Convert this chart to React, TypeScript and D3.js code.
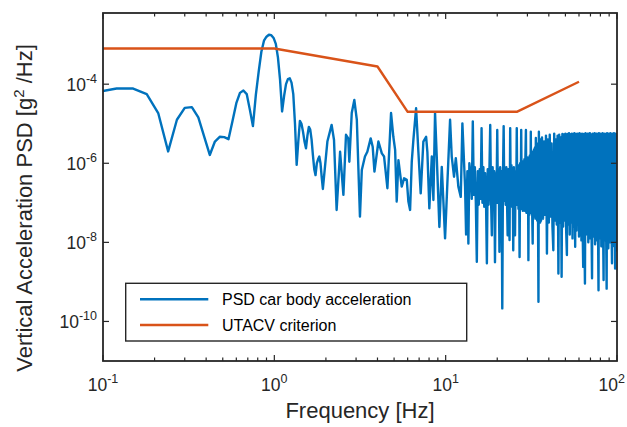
import React from 'react';
import * as d3 from 'd3';

const W = 627;
const H = 427;
const PL = 103, PR = 617, PT = 13, PB = 361;

const xDomain = [0.1, 100];
const yDomain = [1e-11, Math.pow(10, -2.2)];

const xTickExps = [-1, 0, 1, 2];
const yTickExps = [-10, -8, -6, -4];
const minorMults = [2, 3, 4, 5, 6, 7, 8, 9];

const legendLabels = ['PSD car body acceleration', 'UTACV criterion'];
const seriesColors = ['#0072BD', '#D95319'];

// UTACV criterion (Hz, g^2/Hz)
const critFreq = [0.1, 1, 4, 6, 26, 60];
const critPSD = [8e-4, 8e-4, 2.8e-4, 2e-5, 2e-5, 1.15e-4];

// PSD car body acceleration, log10(g^2/Hz)
// low band: uniform bins from 0.09 Hz, step 0.03 Hz
const psdLowStart = 0.09;
const psdLowStep = 0.03;
const psdLowLog10 = [
  -4.21, -4.11, -4.11, -4.25, -4.73, -5.70, -4.90, -4.60, -4.58, -4.84,
  -5.33, -5.79, -5.45, -5.33, -5.34, -5.39, -4.93, -4.48, -4.22, -4.16,
  -4.25, -4.65, -5.06, -4.27, -3.69, -3.18, -2.90, -2.80, -2.75, -2.76,
  -2.83, -2.98, -3.33, -3.89, -4.69, -4.30, -4.00, -3.87, -3.85, -3.96,
  -4.25, -5.00, -6.04, -5.45, -4.93, -5.00, -5.20, -5.45, -5.62, -5.30,
  -5.08, -5.15, -5.40, -5.80, -6.15, -6.30, -6.00, -5.90, -5.83, -6.00,
  -6.35, -6.65,
];

// mid band: [Hz, log10 PSD]
const psdMid: [number, number][] = [
  [2.04, -5.45], [2.16, -5.03], [2.23, -5.41], [2.31, -7.18], [2.42, -5.71],
  [2.53, -6.80], [2.62, -5.28], [2.70, -5.37], [2.74, -5.96], [2.83, -4.73],
  [2.93, -4.40], [3.03, -4.90], [3.16, -7.35], [3.24, -6.17], [3.38, -5.83],
  [3.49, -5.71], [3.65, -5.37], [3.75, -5.58], [3.84, -6.21], [4.05, -5.45],
  [4.24, -5.75], [4.37, -5.83], [4.57, -6.63], [4.80, -4.73], [4.95, -5.33],
  [5.07, -5.66], [5.18, -6.97], [5.30, -5.92], [5.54, -6.59], [5.72, -6.38],
  [5.93, -6.42], [6.06, -6.97], [6.20, -7.18], [6.34, -5.96], [6.48, -5.41],
  [6.72, -4.61], [6.93, -5.71], [7.15, -6.76], [7.41, -5.45], [7.69, -5.33],
  [7.82, -5.71], [8.03, -7.14], [8.30, -5.83], [8.48, -6.93], [8.67, -4.73],
  [8.87, -5.83], [9.19, -7.61], [9.49, -6.09], [9.69, -6.93], [9.92, -7.90],
  [10.23, -6.51], [10.61, -4.90], [10.85, -5.83], [11.19, -6.34], [11.46, -5.87],
  [11.86, -6.59], [12.25, -6.85], [12.52, -4.99], [12.98, -6.59], [13.16, -7.80],
  [13.39, -6.20], [13.57, -8.03], [13.75, -6.00],
];

// band 1: uniform bins from 14 Hz, step 0.2 Hz
const psdBand1Start = 14;
const psdBand1Step = 0.2;
const psdBand1Log10 = [
  -6.30, -6.90, -4.94, -6.80, -6.10, -7.00, -8.49, -6.20, -7.05, -6.15,
  -6.90, -5.11, -7.00, -6.10, -7.10, -6.25, -6.95, -8.53, -6.15, -7.05,
  -6.20, -5.03, -6.90, -7.82, -6.10, -6.95, -6.20, -8.50, -6.25, -7.00,
  -5.16, -7.00, -6.15, -8.24, -6.10, -7.10, -6.20, -9.67, -6.30, -5.06,
  -6.95, -6.20, -7.05, -6.10, -6.90, -7.82, -6.15, -7.00, -7.94, -5.11,
  -7.00, -6.05, -7.10, -6.15, -8.20, -6.10, -7.05, -7.82, -6.20, -7.00,
  -5.11, -7.05, -6.05, -7.15, -6.10, -8.37, -6.00, -7.10, -5.16, -7.15,
  -5.95, -7.20, -6.00, -7.05, -5.90, -7.20, -5.85, -5.16, -7.25, -5.95,
  -7.10, -5.85, -8.45, -5.90, -7.30, -5.80, -7.20, -5.20, -7.25, -5.75,
  -7.30, -8.03, -5.70, -7.35, -5.65, -7.25, -5.60, -7.40, -5.36, -7.30,
  -5.50, -7.45, -5.55, -7.35, -9.50, -5.20, -7.40, -5.45, -7.50, -5.40,
  -7.45,
];

// band 2: uniform bins from 36.5 Hz, step 0.5 Hz
const psdBand2Start = 36.5;
const psdBand2Step = 0.5;
const psdBand2Log10 = [
  -5.35, -7.40, -5.45, -7.30, -5.30, -8.28, -5.40, -7.50, -5.28, -7.35,
  -5.50, -7.60, -8.20, -5.25, -7.45, -5.40, -7.55, -5.30, -8.79, -5.28,
  -7.50, -5.35, -8.87, -5.26, -7.60, -5.27, -7.45, -5.25, -7.70, -8.32,
  -5.26, -7.55, -5.24, -7.80, -5.27, -7.50, -5.25, -7.90, -5.26, -7.60,
  -5.24, -8.11, -5.27, -7.70, -5.25, -7.55, -5.26, -7.85, -5.24, -7.60,
  -5.27, -7.95, -5.25, -7.65, -8.62, -5.26, -7.70, -9.04, -5.24, -7.80,
  -5.27, -7.60, -5.25, -8.00, -5.26, -7.75, -5.24, -7.90, -5.27, -7.65,
  -8.91, -5.25, -7.85, -5.26, -7.70, -5.24, -8.05, -5.27, -7.75, -5.25,
  -7.95, -5.26, -7.70, -9.21, -5.24, -7.90, -5.27, -7.65, -5.25, -8.10,
  -5.26, -7.80, -5.24, -7.70, -8.95, -5.27, -7.95, -5.25, -7.75, -5.26,
  -7.90, -9.17, -5.24, -7.80, -5.27, -8.15, -5.25, -7.70, -5.26, -8.00,
  -5.24, -7.85, -5.27, -7.75, -8.53, -5.25, -7.95, -5.26, -7.80, -5.24,
  -8.10, -5.27, -8.66, -5.25, -7.85, -5.26, -8.20, -5.25,
];

const FONT = "'Liberation Sans', Arial, Helvetica, sans-serif";
const AX = '#262626';

export default function App() {
  const x = d3.scaleLog().domain(xDomain).range([PL, PR]);
  const y = d3.scaleLog().domain(yDomain).range([PB, PT]);

  const grid = (start: number, step: number, vals: number[]) =>
    vals.map((l, i) => [start + i * step, Math.pow(10, l)] as [number, number]);

  const blue: [number, number][] = [
    ...grid(psdLowStart, psdLowStep, psdLowLog10),
    ...psdMid.map(([f, l]) => [f, Math.pow(10, l)] as [number, number]),
    ...grid(psdBand1Start, psdBand1Step, psdBand1Log10),
    ...grid(psdBand2Start, psdBand2Step, psdBand2Log10),
  ];
  const orange: [number, number][] = critFreq.map((f, i) => [f, critPSD[i]]);

  const line = d3
    .line<[number, number]>()
    .x((d) => x(d[0]))
    .y((d) => y(d[1]));

  const majorX = xTickExps.map((e) => Math.pow(10, e));
  const minorX: number[] = [];
  for (let e = -1; e < 2; e++) minorMults.forEach((m) => minorX.push(m * Math.pow(10, e)));
  const majorY = yTickExps.map((e) => Math.pow(10, e));

  const majLen = 6;
  const minLen = 3.5;
  const LW = 2.4;

  return (
    <svg
      width={W}
      height={H}
      style={{ position: 'absolute', left: 0, top: 0, background: '#fff' }}
      fontFamily={FONT}
    >
      <defs>
        <clipPath id="plotclip">
          <rect x={PL} y={PT} width={PR - PL} height={PB - PT} />
        </clipPath>
      </defs>
      <rect x={0} y={0} width={W} height={H} fill="#fff" />

      <g clipPath="url(#plotclip)">
        <path
          d={line(blue) || ''}
          fill="none"
          stroke={seriesColors[0]}
          strokeWidth={LW}
          strokeLinejoin="round"
        />
        <path
          d={line(orange) || ''}
          fill="none"
          stroke={seriesColors[1]}
          strokeWidth={LW}
          strokeLinejoin="round"
        />
      </g>

      {/* ticks */}
      <g stroke={AX} strokeWidth={1.2}>
        {majorX.map((v, i) => (
          <g key={'mx' + i}>
            <line x1={x(v)} x2={x(v)} y1={PB} y2={PB - majLen} />
            <line x1={x(v)} x2={x(v)} y1={PT} y2={PT + majLen} />
          </g>
        ))}
        {minorX.map((v, i) => (
          <g key={'nx' + i}>
            <line x1={x(v)} x2={x(v)} y1={PB} y2={PB - minLen} />
            <line x1={x(v)} x2={x(v)} y1={PT} y2={PT + minLen} />
          </g>
        ))}
        {majorY.map((v, i) => (
          <g key={'my' + i}>
            <line x1={PL} x2={PL + majLen} y1={y(v)} y2={y(v)} />
            <line x1={PR} x2={PR - majLen} y1={y(v)} y2={y(v)} />
          </g>
        ))}
      </g>
      <rect
        x={PL}
        y={PT}
        width={PR - PL}
        height={PB - PT}
        fill="none"
        stroke={AX}
        strokeWidth={1.8}
      />

      {/* x tick labels */}
      {xTickExps.map((e, i) => {
        const last = i === xTickExps.length - 1;
        return (
          <text
            key={'xl' + i}
            x={last ? 625 : x(Math.pow(10, e))}
            y={390.5}
            fontSize={17.5}
            fill={AX}
            textAnchor={last ? 'end' : 'middle'}
          >
            <tspan>10</tspan>
            <tspan dy={-8} fontSize={12.5}>
              {String(e)}
            </tspan>
          </text>
        );
      })}

      {/* y tick labels */}
      {yTickExps.map((e, i) => (
        <text
          key={'yl' + i}
          x={97}
          y={y(Math.pow(10, e)) + 6.5}
          fontSize={17.5}
          fill={AX}
          textAnchor="end"
        >
          <tspan>10</tspan>
          <tspan dy={-7.5} fontSize={12.5}>
            {String(e)}
          </tspan>
        </text>
      ))}

      {/* axis labels */}
      <text x={(PL + PR) / 2} y={418} fontSize={22} fill={AX} textAnchor="middle">
        Frequency [Hz]
      </text>
      <text
        transform={`translate(32, 208) rotate(-90)`}
        fontSize={22}
        fill={AX}
        textAnchor="middle"
      >
        <tspan>Vertical Acceleration PSD [g</tspan>
        <tspan dy={-8} fontSize={15}>2</tspan>
        <tspan dy={8}> /Hz]</tspan>
      </text>

      {/* legend */}
      <rect
        x={125.7}
        y={283.3}
        width={341}
        height={57.7}
        fill="#fff"
        stroke={AX}
        strokeWidth={1.4}
      />
      {legendLabels.map((lab, i) => {
        const ly = 299.3 + i * 25.7;
        return (
          <g key={'lg' + i}>
            <line x1={140} x2={208.3} y1={ly} y2={ly} stroke={seriesColors[i]} strokeWidth={LW} />
            <text x={222} y={ly + 5.8} fontSize={16} fill="#000">
              {lab}
            </text>
          </g>
        );
      })}
    </svg>
  );
}
